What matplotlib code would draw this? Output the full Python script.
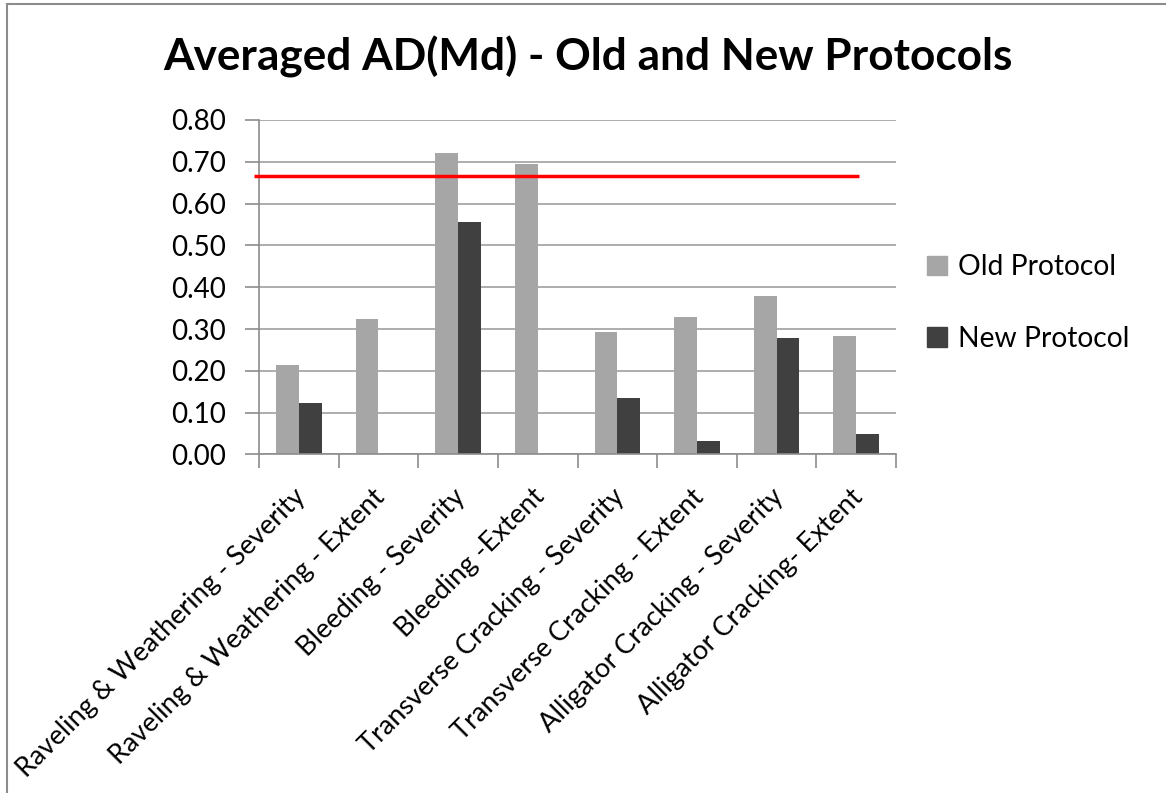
import matplotlib
matplotlib.use("Agg")
import matplotlib.pyplot as plt
import matplotlib.transforms as mtransforms
import numpy as np
from matplotlib.patches import Rectangle, Patch

categories = [
    "Raveling & Weathering - Severity",
    "Raveling & Weathering - Extent",
    "Bleeding - Severity",
    "Bleeding -Extent",
    "Transverse Cracking - Severity",
    "Transverse Cracking - Extent",
    "Alligator Cracking - Severity",
    "Alligator Cracking- Extent",
]
old_protocol = [0.213, 0.323, 0.720, 0.695, 0.293, 0.329, 0.378, 0.284]
new_protocol = [0.123, 0.0, 0.555, 0.0, 0.134, 0.033, 0.279, 0.048]
threshold = 0.667
threshold_span = [-0.56, 7.04]

plt.rcParams['font.family'] = ['Lato', 'DejaVu Sans']

fig = plt.figure(figsize=(11.66, 7.93), dpi=100)
ax = fig.add_axes([259 / 1166, 1 - 454.5 / 793, (896 - 259) / 1166, (454.5 - 120) / 793])

# outer chart border (cut off at right/bottom like the screenshot)
fig.patches.append(Rectangle((7 / 1166, -0.1), 1.2, (1 - 4 / 793) + 0.1,
                             transform=fig.transFigure, fill=False,
                             edgecolor='#8c8c8c', linewidth=1.5))

x = np.arange(len(categories))
w = 0.285
ax.bar(x - w / 2, old_protocol, w, color='#a6a6a6', zorder=2)
ax.bar(x + w / 2, new_protocol, w, color='#404040', zorder=2)
ax.plot(threshold_span, [threshold, threshold], color='#ff0000', linewidth=2.5,
        zorder=3, clip_on=False, solid_capstyle='butt')

ax.set_xlim(-0.5, len(categories) - 0.5)
ax.set_ylim(0, 0.8)
ax.set_yticks(np.arange(0, 0.81, 0.1))
ax.set_yticklabels([f"{v:.2f}" for v in np.arange(0, 0.81, 0.1)], fontsize=20)
ax.yaxis.grid(True, color='#a0a0a0', linewidth=1.2, zorder=0)
ax.set_axisbelow(True)

ax.set_xticks(np.arange(-0.5, len(categories)), minor=False)
ax.set_xticklabels([])
ax.set_xticks(x, minor=True)
ax.set_xticklabels(categories, minor=True, rotation=45, ha='right',
                   rotation_mode='anchor', fontsize=19.5)
ax.tick_params(axis='x', which='minor', length=0, pad=12)
ax.tick_params(axis='x', which='major', length=10, color='#8c8c8c', width=1.2)
ax.tick_params(axis='y', length=10, color='#8c8c8c', width=1.2, pad=14)

shift = mtransforms.ScaledTranslation(-6 / 100, -13 / 100, fig.dpi_scale_trans)
for lab in ax.get_xticklabels(minor=True):
    lab.set_transform(lab.get_transform() + shift)

for s in ['top', 'right']:
    ax.spines[s].set_visible(False)
for s in ['left', 'bottom']:
    ax.spines[s].set_color('#8c8c8c')
    ax.spines[s].set_linewidth(1.2)

fig.text(0.5 + 5 / 1166, 1 - 57 / 793, "Averaged AD(Md) - Old and New Protocols",
         ha='center', va='center', fontsize=31.8, fontweight='bold')

handles = [Patch(color='#a6a6a6'), Patch(color='#404040')]
fig.legend(handles, ["Old Protocol", "New Protocol"], loc='center left',
           bbox_to_anchor=(902 / 1166, 1 - 303 / 793), frameon=False,
           fontsize=20.3, handlelength=0.7, handleheight=0.7, handletextpad=0.4,
           labelspacing=1.6)

fig.savefig("out.png", dpi=100, facecolor='white')
